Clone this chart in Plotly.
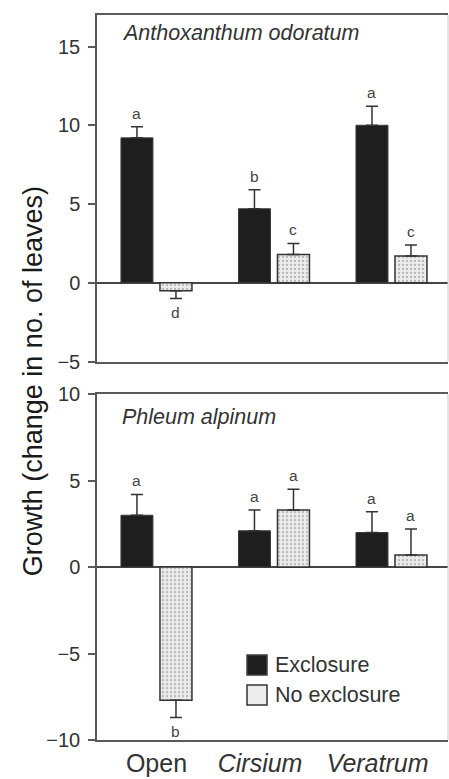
import plotly.graph_objects as go

# ---------------- data ----------------
groups = ["Open", "Cirsium", "Veratrum"]
group_labels = ["Open",
                "<i>Cirsium</i>\u00a0\u00a0\u00a0\u00a0",
                "<i>Veratrum</i>\u00a0\u00a0\u00a0\u00a0"]
series_names = ["Exclosure", "No exclosure"]

antho_excl = [9.2, 4.7, 10.0]
antho_excl_se = [0.7, 1.2, 1.2]
antho_excl_letters = ["a", "b", "a"]
antho_noex = [-0.5, 1.8, 1.7]
antho_noex_se = [0.5, 0.7, 0.7]
antho_noex_letters = ["d", "c", "c"]

phleum_excl = [3.0, 2.1, 2.0]
phleum_excl_se = [1.2, 1.2, 1.2]
phleum_excl_letters = ["a", "a", "a"]
phleum_noex = [-7.7, 3.3, 0.7]
phleum_noex_se = [1.0, 1.2, 1.5]
phleum_noex_letters = ["b", "a", "a"]

top_ticks = [-5, 0, 5, 10, 15]
bottom_ticks = [-10, -5, 0, 5, 10]

# ---------------- styles ----------------
FONT = "Liberation Sans, Arial, Helvetica, sans-serif"
TXT = "#333333"
EXCL_FILL = "#1e1e1e"
EXCL_LINE = "#3c3c3c"
NOEX_FILL = "#ececec"
NOEX_LINE = "#333333"
AX = "#5a5a5a"

noex_pattern = dict(shape=".", fgcolor="#b8b8b8", bgcolor=NOEX_FILL,
                    size=4, solidity=0.25, fillmode="replace")

fig = go.Figure()


def err(vals, se):
    up = [s if v >= 0 else 0 for v, s in zip(vals, se)]
    dn = [s if v < 0 else 0 for v, s in zip(vals, se)]
    return dict(type="data", symmetric=False, array=up, arrayminus=dn,
                color="#333333", thickness=1.5, width=6)


panels = [
    ("x", "y", antho_excl, antho_excl_se, antho_noex, antho_noex_se,
     antho_excl_letters, antho_noex_letters),
    ("x2", "y2", phleum_excl, phleum_excl_se, phleum_noex, phleum_noex_se,
     phleum_excl_letters, phleum_noex_letters),
]

annotations = []
for xa, ya, ev, es, nv, ns, el, nl in panels:
    fig.add_trace(go.Bar(x=groups, y=ev, name=series_names[0], xaxis=xa, yaxis=ya,
                         marker=dict(color=EXCL_FILL, line=dict(color=EXCL_LINE, width=1)),
                         error_y=err(ev, es), showlegend=False))
    fig.add_trace(go.Bar(x=groups, y=nv, name=series_names[1], xaxis=xa, yaxis=ya,
                         marker=dict(color=NOEX_FILL, line=dict(color=NOEX_LINE, width=1.5),
                                     pattern=noex_pattern),
                         error_y=err(nv, ns), showlegend=False))
    for vals, se, lets, shift in ((ev, es, el, -19.5), (nv, ns, nl, 19.5)):
        for g, v, s, t in zip(groups, vals, se, lets):
            pos = v >= 0
            annotations.append(dict(
                x=g, y=(v + s) if pos else (v - s), xref=xa, yref=ya,
                text=t, showarrow=False, xshift=shift,
                yanchor="bottom" if pos else "top", yshift=3 if pos else -3,
                font=dict(family=FONT, size=15.5, color="#444444")))

# panel titles
annotations.append(dict(x=0.065, y=0.975, xref="paper", yref="paper", xanchor="left",
                        yanchor="middle", showarrow=False,
                        text="<i>Anthoxanthum odoratum</i>",
                        font=dict(family=FONT, size=21.5, color=TXT)))
annotations.append(dict(x=0.065, y=0.4455, xref="paper", yref="paper", xanchor="left",
                        yanchor="middle", showarrow=False,
                        text="<i>Phleum alpinum</i>",
                        font=dict(family=FONT, size=21.5, color=TXT)))
# y title
annotations.append(dict(x=-0.182, y=0.495, xref="paper", yref="paper", xanchor="center",
                        yanchor="middle", showarrow=False, textangle=-90,
                        text="Growth (change in no. of leaves)",
                        font=dict(family=FONT, size=27, color="#1a1a1a")))

# custom legend (swatches + labels)
shapes = []
legend_rows = [(series_names[0], EXCL_FILL, EXCL_LINE, 0.1034),
               (series_names[1], NOEX_FILL, NOEX_LINE, 0.0621)]
for name, fill, line, yc in legend_rows:
    shapes.append(dict(type="rect", xref="paper", yref="paper",
                       x0=0.4274, x1=0.4843, y0=yc - 0.0138, y1=yc + 0.0138,
                       fillcolor=fill, line=dict(color=line, width=1.5)))
    annotations.append(dict(x=0.5014, y=yc, xref="paper", yref="paper", xanchor="left",
                            yanchor="middle", showarrow=False, text=name,
                            font=dict(family=FONT, size=21.5, color=TXT)))

# faint right-hand frame edges
for yref in ("y domain", "y2 domain"):
    shapes.append(dict(type="line", xref="paper", yref=yref, x0=1, x1=1, y0=0, y1=1,
                       line=dict(color="#c8c8c8", width=1)))

x_common = dict(showline=True, linecolor=AX, linewidth=1.5, mirror=True,
                showgrid=False, automargin=False)
y_common = dict(showline=True, linecolor=AX, linewidth=1.5, mirror=False,
                showgrid=False, automargin=False)
xrange = [-0.506, 2.481]

fig.update_layout(
    width=449, height=779,
    margin=dict(l=97, r=1, t=15, b=39, autoexpand=False),
    paper_bgcolor="white", plot_bgcolor="white",
    barmode="group", bargap=0.336, bargroupgap=0.18,
    font=dict(family=FONT, color=TXT),
    showlegend=False,
    xaxis=dict(domain=[0, 1], anchor="y", range=xrange, showticklabels=False,
               ticks="", **x_common),
    yaxis=dict(domain=[0.522, 1], anchor="x", range=[-5, 17], tickvals=top_ticks,
               ticks="outside", ticklen=7, tickwidth=1.5, tickcolor=AX,
               zeroline=True, zerolinecolor="#444444", zerolinewidth=1.5,
               tickfont=dict(family=FONT, size=20, color=TXT), ticklabelstandoff=4,
               **y_common),
    xaxis2=dict(domain=[0, 1], anchor="y2", range=xrange, tickvals=groups,
                ticktext=group_labels, ticks="", tickangle=0,
                tickfont=dict(family=FONT, size=25, color=TXT),
                **x_common),
    yaxis2=dict(domain=[0, 0.477], anchor="x2", range=[-10, 10], tickvals=bottom_ticks,
                ticks="outside", ticklen=7, tickwidth=1.5, tickcolor=AX,
                zeroline=True, zerolinecolor="#444444", zerolinewidth=1.5,
                tickfont=dict(family=FONT, size=20, color=TXT), ticklabelstandoff=4,
                **y_common),
    annotations=annotations,
    shapes=shapes,
)

fig.write_html("out.html", config={"displayModeBar": False},
               post_script="document.body.style.margin='0';"
                           "document.body.style.overflow='hidden';")
